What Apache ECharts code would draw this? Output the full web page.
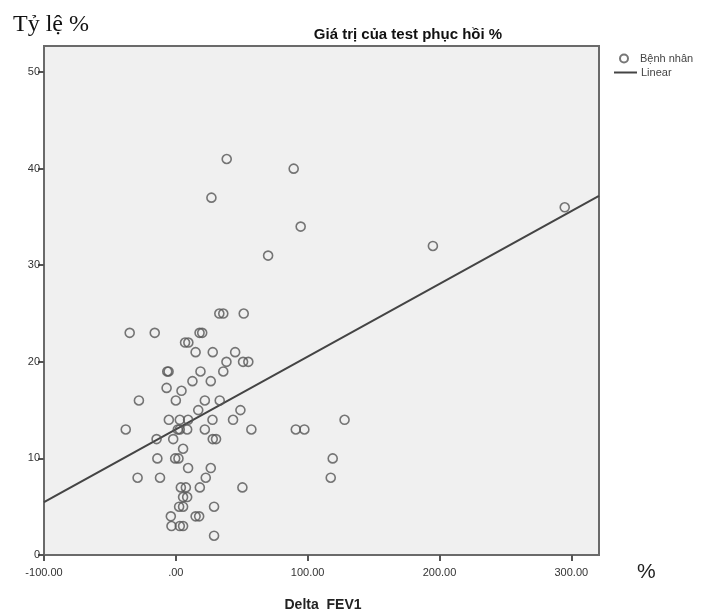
<!DOCTYPE html>
<html>
<head>
<meta charset="utf-8">
<script src="https://cdn.jsdelivr.net/npm/echarts@6/dist/echarts.min.js"></script>
<style>
  html, body { margin: 0; padding: 0; background: #fff; }
  #chart { width: 707px; height: 613px; }
</style>
</head>
<body>
<div id="chart"></div>
<script>
// Delta FEV1 (x) va Ty le % (y) cua tung benh nhan
var deltaFev1 = [38.6, 89.4, 27, 94.7, 70, 295, 195, 33, 36, 51.5,
    -35, -16, 18, 20, 7, 9.5, 15, 28, 45, 38.4,
    51, 55, -6.5, -5.5, 18.7, 36, 12.6, 26.5, -7, 4.3,
    -28, 0, 22, 33.3, 17, 49, -5.3, 3, 9.3, 27.8,
    43.4, 128, -38, 1.5, 3, 8.6, 22, 57.3, 91, 97.5,
    -14.6, -2, 28, 30.5, 5.5, -14, -0.5, 2, 119, 9.3,
    26.5, -29, -12, 22.7, 117.5, 3.8, 7.6, 18.2, 50.5, 5.5,
    8.6, 2.5, 5.5, 29, -3.8, 15, 17.7, -3.3, 3, 5.5, 29];
var tyLe = [41, 40, 37, 34, 31, 36, 32, 25, 25, 25,
    23, 23, 23, 23, 22, 22, 21, 21, 21, 20,
    20, 20, 19, 19, 19, 19, 18, 18, 17.3, 17,
    16, 16, 16, 16, 15, 15, 14, 14, 14, 14,
    14, 14, 13, 13, 13, 13, 13, 13, 13, 13,
    12, 12, 12, 12, 11, 10, 10, 10, 10, 9,
    9, 8, 8, 8, 8, 7, 7, 7, 7, 6,
    6, 5, 5, 5, 4, 4, 4, 3, 3, 3, 2];

// duong hoi quy tuyen tinh
var fitIntercept = 13.0;
var fitSlope = 0.0753;

var xRange = [-100, 321];
var yRange = [0, 52.7];

var points = deltaFev1.map(function (x, i) { return [x, tyLe[i]]; });
var fitLine = xRange.map(function (x) { return [x, fitIntercept + fitSlope * x]; });

var myChart = echarts.init(document.getElementById('chart'));
var option = {
    backgroundColor: '#fff',
    animation: false,
    title: [{
        text: 'Giá trị của test phục hồi %',
        left: 403, top: 22, textAlign: 'center',
        textStyle: { fontFamily: 'Liberation Sans', fontSize: 15, fontWeight: 'bold', color: '#111' }
    }, {
        text: 'Tỷ lệ %',
        left: 8, top: 8,
        textStyle: { fontFamily: 'Liberation Serif', fontSize: 24, fontWeight: 'normal', color: '#111' }
    }, {
        text: '%',
        left: 632, top: 557,
        textStyle: { fontFamily: 'Liberation Sans', fontSize: 21, fontWeight: 'normal', color: '#222' }
    }, {
        text: 'Delta  FEV1',
        left: 318, top: 593, textAlign: 'center',
        textStyle: { fontFamily: 'Liberation Sans', fontSize: 14, fontWeight: 'bold', color: '#222' }
    }],
    legend: [{
        left: 614, top: 48,
        itemWidth: 10, itemHeight: 8,
        textStyle: { fontFamily: 'Liberation Sans', fontSize: 11, color: '#444', padding: [0, 0, 0, 6] },
        data: ['Bệnh nhân']
    }, {
        left: 609, top: 62,
        icon: 'rect',
        itemWidth: 23, itemHeight: 2,
        textStyle: { fontFamily: 'Liberation Sans', fontSize: 11, color: '#444', padding: [0, 0, 0, -1] },
        data: ['Linear']
    }],
    grid: {
        left: 44, right: 108, top: 46, bottom: 58,
        show: true,
        backgroundColor: '#f0f0f0',
        borderColor: '#6a6a6a',
        borderWidth: 2
    },
    xAxis: {
        type: 'value',
        min: xRange[0], max: xRange[1], interval: 100,
        splitLine: { show: false },
        axisLine: { onZero: false, lineStyle: { color: '#6a6a6a', width: 2 } },
        axisTick: { show: true, length: 6, lineStyle: { color: '#555', width: 2 } },
        axisLabel: {
            margin: 12, color: '#333', fontFamily: 'Liberation Sans', fontSize: 11,
            formatter: function (v) { return v === 0 ? '.00' : v.toFixed(2); },
            showMaxLabel: false
        }
    },
    yAxis: {
        type: 'value',
        min: yRange[0], max: yRange[1], interval: 10,
        splitLine: { show: false },
        axisLine: { onZero: false, lineStyle: { color: '#6a6a6a', width: 2 } },
        axisTick: { show: true, length: 6, lineStyle: { color: '#555', width: 2 } },
        axisLabel: {
            margin: 4, color: '#333', fontFamily: 'Liberation Sans', fontSize: 11,
            showMaxLabel: false
        }
    },
    series: [{
        name: 'Bệnh nhân',
        type: 'scatter',
        data: points,
        symbol: 'circle',
        symbolSize: 9,
        itemStyle: { color: 'rgba(0,0,0,0)', borderColor: '#555', borderWidth: 1.6 },
        z: 3
    }, {
        name: 'Linear',
        type: 'line',
        data: fitLine,
        symbol: 'none',
        lineStyle: { color: '#444', width: 2 },
        itemStyle: { color: '#444' },
        z: 2
    }]
};
myChart.setOption(option);
</script>
</body>
</html>
